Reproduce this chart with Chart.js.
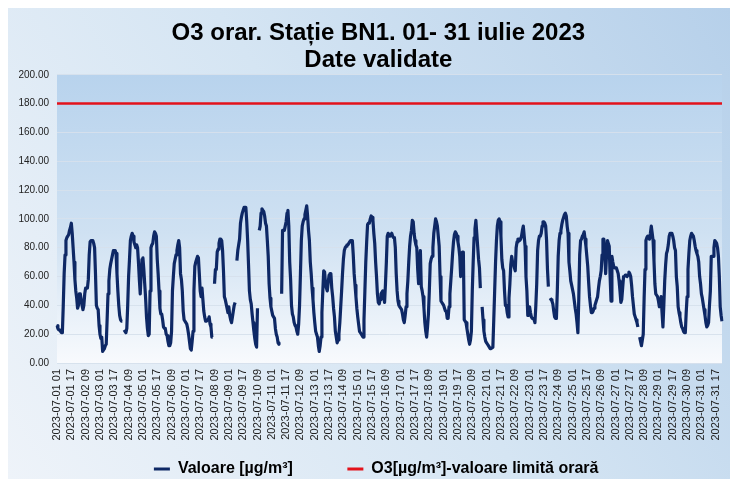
<!DOCTYPE html>
<html><head><meta charset="utf-8">
<script src="https://cdn.jsdelivr.net/npm/chart.js@4.4.0/dist/chart.umd.min.js"></script>
<style>html,body{margin:0;padding:0;background:#fff}#wrap{width:738px;height:487px;position:relative}</style>
</head><body><div id="wrap"><canvas id="c" width="738" height="487"></canvas></div>
<script>
// Hourly O3 values (µg/m³), one array per day, hours 01..24
const zi01 = [26,24,23,23,22,21,21,40,62,75,85,87,88,89,92,94,97,90,80,70,58,50,45,38];
const zi02 = [40,48,48,44,40,37,40,48,52,52,52,58,75,84,85,85,85,83,80,62,40,38,37,26];
const zi03 = [20,17,18,8,9,10,12,13,30,48,57,65,69,72,75,78,78,78,76,62,50,40,33,30];
const zi04 = [29,29,null,23,22,21,24,40,60,72,85,88,90,88,84,82,80,82,80,70,58,48,62,72];
const zi05 = [73,65,55,45,32,24,19,20,50,80,82,83,88,91,90,88,72,62,50,38,34,34,30,25];
const zi06 = [24,24,20,19,15,12,12,14,22,50,60,69,72,75,78,82,85,80,62,58,50,36,30,30];
const zi07 = [28,27,24,20,15,10,9,15,22,50,67,70,72,74,73,62,50,46,52,44,36,32,29,29];
const zi08 = [30,30,32,27,25,18,18,null,55,65,65,77,79,83,86,86,85,78,64,46,44,41,38,35];
const zi09 = [39,33,30,28,32,36,40,42,null,71,78,82,86,97,101,104,106,108,108,108,98,85,68,50];
const zi10 = [44,41,34,28,22,17,13,11,38,null,92,95,104,107,106,105,102,97,95,85,74,55,45,39];
const zi11 = [36,33,32,31,24,20,18,14,13,13,null,48,92,92,92,95,98,104,106,95,70,58,40,34];
const zi12 = [32,28,26,25,22,20,27,40,62,85,95,98,100,103,106,109,102,92,85,70,62,52,44,35];
const zi13 = [28,22,20,18,12,8,12,18,35,50,64,63,55,52,50,56,61,62,62,52,46,38,32,22];
const zi14 = [18,14,16,20,28,39,50,62,72,78,80,81,82,82,83,84,85,85,85,75,62,54,46,38];
const zi15 = [32,27,22,21,20,19,18,30,50,70,84,96,97,97,100,102,101,99,90,83,70,60,48,42];
const zi16 = [41,44,48,49,50,46,42,55,70,88,90,89,88,89,90,88,87,87,80,62,50,43,40,39];
const zi17 = [38,37,34,30,28,33,39,48,57,70,81,88,92,99,98,90,85,82,80,65,55,70,78,53];
const zi18 = [50,46,38,28,22,18,25,34,50,69,72,74,80,90,95,100,98,95,88,81,60,43,42,41];
const zi19 = [40,38,36,36,31,31,39,48,57,66,76,84,89,91,90,88,84,80,74,60,76,77,77,30];
const zi20 = [29,28,24,20,16,13,16,22,50,70,87,93,99,90,81,72,66,52,null,39,30,22,18,15];
const zi21 = [14,13,12,11,10,10,10,11,30,50,70,85,95,99,100,98,88,72,66,64,50,40,40,35];
const zi22 = [32,45,55,68,74,70,69,66,64,80,84,86,86,85,86,88,92,95,88,81,60,50,33,33];
const zi23 = [39,35,32,31,31,30,28,40,55,78,85,88,88,90,95,98,98,97,95,85,65,53,null,45];
const zi24 = [44,43,41,36,32,31,31,50,74,85,90,92,96,99,101,103,104,102,95,90,70,64,57,54];
const zi25 = [51,48,43,38,34,28,21,45,75,85,86,88,89,91,86,81,74,67,56,46,40,35,35,36];
const zi26 = [38,40,42,44,46,52,57,60,64,75,86,86,75,62,75,85,83,81,60,43,74,70,67,66];
const zi27 = [66,66,64,62,57,50,42,44,52,60,60,61,61,60,61,63,62,60,54,46,40,34,32,30];
const zi28 = [28,25,null,18,15,12,16,20,45,65,85,87,88,87,86,90,95,90,85,71,55,48,47,46];
const zi29 = [43,39,42,46,35,25,40,57,68,76,78,82,88,90,90,90,88,85,80,78,60,53,39,35];
const zi30 = [32,28,25,24,22,21,21,35,46,65,76,85,88,90,89,88,85,81,78,76,74,70,60,55];
const zi31 = [48,45,41,37,33,28,25,26,28,40,50,74,74,74,80,85,84,83,80,74,60,39,33,29];

const limitaOrara = 180;

const tickLabels = [
 "2023-07-01 01","2023-07-01 17","2023-07-02 09","2023-07-03 01","2023-07-03 17","2023-07-04 09",
 "2023-07-05 01","2023-07-05 17","2023-07-06 09","2023-07-07 01","2023-07-07 17","2023-07-08 09",
 "2023-07-09 01","2023-07-09 17","2023-07-10 09","2023-07-11 01","2023-07-11 17","2023-07-12 09",
 "2023-07-13 01","2023-07-13 17","2023-07-14 09","2023-07-15 01","2023-07-15 17","2023-07-16 09",
 "2023-07-17 01","2023-07-17 17","2023-07-18 09","2023-07-19 01","2023-07-19 17","2023-07-20 09",
 "2023-07-21 01","2023-07-21 17","2023-07-22 09","2023-07-23 01","2023-07-23 17","2023-07-24 09",
 "2023-07-25 01","2023-07-25 17","2023-07-26 09","2023-07-27 01","2023-07-27 17","2023-07-28 09",
 "2023-07-29 01","2023-07-29 17","2023-07-30 09","2023-07-31 01","2023-07-31 17"];

const valoare = [].concat(zi01,zi02,zi03,zi04,zi05,zi06,zi07,zi08,zi09,zi10,zi11,zi12,zi13,zi14,zi15,zi16,
  zi17,zi18,zi19,zi20,zi21,zi22,zi23,zi24,zi25,zi26,zi27,zi28,zi29,zi30,zi31);

// hourly categories 2023-07-01 01 ... 2023-08-01 00
const categories = [];
for (let h = 0; h < valoare.length; h++) {
  const t = new Date(Date.UTC(2023, 6, 1, 1 + h));
  categories.push(t.toISOString().slice(0, 10) + ' ' + String(t.getUTCHours()).padStart(2, '0'));
}
const tickSet = new Set(tickLabels);

const FONT = "'Liberation Sans', Arial, sans-serif";
Chart.defaults.font.family = FONT;

const bgPlugin = {
  id: 'bg',
  beforeDraw(chart) {
    const { ctx, chartArea: a, width, height } = chart;
    ctx.save();
    ctx.fillStyle = '#ffffff';
    ctx.fillRect(0, 0, width, height);
    const g = ctx.createLinearGradient(8, 478, 730, 8);
    g.addColorStop(0, '#eef3f9');
    g.addColorStop(0.5, '#d5e5f3');
    g.addColorStop(1, '#b6d0ea');
    ctx.fillStyle = g;
    ctx.fillRect(8, 8, 722, 471);
    const g2 = ctx.createLinearGradient(0, a.top, 0, a.bottom);
    g2.addColorStop(0, '#b8d3ed');
    g2.addColorStop(0.55, '#cfe1f2');
    g2.addColorStop(1, '#f8fafd');
    ctx.fillStyle = g2;
    ctx.fillRect(a.left, a.top, a.right - a.left, a.bottom - a.top);
    ctx.restore();
  }
};

new Chart(document.getElementById('c'), {
  type: 'line',
  data: {
    labels: categories,
    datasets: [
      { label: 'Valoare [µg/m³]', data: valoare, borderColor: '#0e2865', backgroundColor: '#0e2865',
        borderWidth: 3.2, pointRadius: 0, spanGaps: false, tension: 0, borderJoinStyle: 'round' },
      { label: 'O3[µg/m³]-valoare limită orară', data: categories.map(() => limitaOrara),
        borderColor: '#e3121b', backgroundColor: '#e3121b', borderWidth: 2.5, pointRadius: 0 }
    ]
  },
  options: {
    responsive: false,
    animation: false,
    layout: { padding: { left: 8, right: 16, top: 8, bottom: 0 } },
    plugins: {
      title: {
        display: true,
        text: ['    O3 orar. Stație BN1. 01- 31 iulie 2023', '    Date validate'],
        font: { size: 24, weight: 'bold', family: FONT, lineHeight: 1.12 },
        color: '#000',
        padding: { top: 12, bottom: 1 }
      },
      legend: {
        position: 'bottom',
        fullSize: false,
        labels: {
          boxWidth: 16, boxHeight: 3, padding: 10, color: '#000',
          font: { size: 16, weight: 'bold', family: FONT },
          generateLabels(chart) {
            const items = Chart.defaults.plugins.legend.labels.generateLabels(chart);
            items.forEach((it, i) => {
              it.lineWidth = 0;
              it.text = it.text + (i === 0 ? '          ' : '      ');
            });
            return items;
          }
        }
      },
      tooltip: { enabled: false }
    },
    scales: {
      x: {
        type: 'category',
        offset: false,
        grid: { display: false, drawTicks: false },
        border: { display: false },
        ticks: {
          autoSkip: false, maxRotation: 90, minRotation: 90, padding: 6, color: '#222',
          font: { size: 11, family: FONT },
          callback(v, i) { const l = categories[i]; return tickSet.has(l) ? l : null; }
        },
        afterFit(s) { s.height = 88; }
      },
      y: {
        min: 0, max: 200,
        ticks: { stepSize: 20, padding: 8, color: '#222', font: { size: 10, family: FONT },
          callback: v => Number(v).toFixed(2) },
        grid: { color: 'rgba(214,224,236,0.95)', drawTicks: false },
        border: { display: false },
        afterFit(s) { s.width = 49; }
      }
    }
  },
  plugins: [bgPlugin]
});
</script></body></html>
